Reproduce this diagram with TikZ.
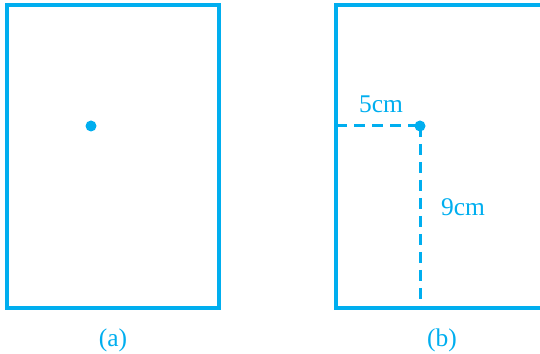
\documentclass[tikz,border=0pt]{standalone}
\usepackage{fontspec}
\setmainfont{Liberation Serif}
\definecolor{figblue}{RGB}{0,174,239}
\tikzset{
  sheet/.style={draw=figblue, line width=2.2pt},
  guide/.style={draw=figblue, line width=1.7pt, dash pattern=on 0.22cm off 0.14cm},
  lbl/.style={text=figblue, font=\fontsize{14.5}{17}\selectfont},
}

\begin{document}
\begin{tikzpicture}
  \useasboundingbox (0cm,0cm) rectangle (10.8cm,7.08cm);
  \clip (0cm,0cm) rectangle (10.8cm,7.08cm);
  % sheet (a)
  \draw[sheet] (0.14cm,0.92cm) rectangle (4.38cm,6.98cm);
  \coordinate (pa) at (1.82cm,4.56cm);
  \fill[figblue] (pa) circle (0.11cm);
  \node[lbl] (capa) at (2.26cm,0.28cm) {(a)};
  % sheet (b)
  \draw[sheet] (6.72cm,0.92cm) rectangle (10.96cm,6.98cm);
  \coordinate (pb) at (8.40cm,4.56cm);
  \coordinate (pl) at (6.72cm,4.56cm);
  \coordinate (pd) at (8.40cm,0.92cm);
  \draw[guide] (pl) -- (pb);
  \draw[guide] (pb) -- (pd);
  \fill[figblue] (pb) circle (0.11cm);
  \node[lbl] (wd) at (7.62cm,5.0cm) {5cm};
  \node[lbl] (ht) at (9.26cm,2.94cm) {9cm};
  \node[lbl] (capb) at (8.84cm,0.28cm) {(b)};
\end{tikzpicture}
\end{document}
